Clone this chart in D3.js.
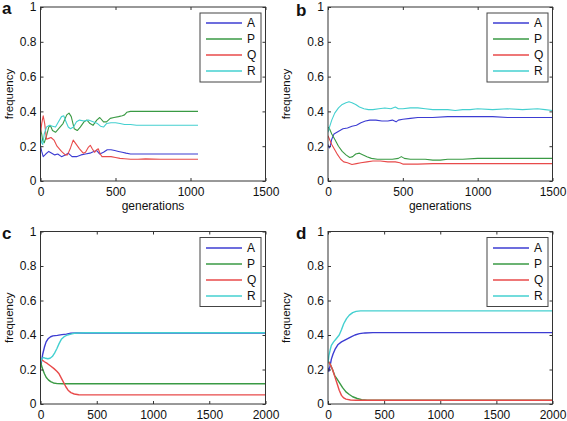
<!DOCTYPE html>
<html><head><meta charset="utf-8">
<script src="https://cdn.jsdelivr.net/npm/d3@7"></script>
<style>
body{margin:0;background:#fff}
svg{display:block}
text{font-family:"Liberation Sans",Arial,sans-serif;fill:#111}
</style>
</head><body>
<svg id="chart" width="567" height="421"></svg>
<script>
// ---------- data ----------
const seriesNames = ["A", "P", "Q", "R"];
const seriesColors = ["#3c3cd2", "#3a9a44", "#e84a4a", "#44d0d0"];
const panelLabels = ["a", "b", "c", "d"];
const yTicks = [0, 0.2, 0.4, 0.6, 0.8, 1];
const yTickLabels = ["0", "0.2", "0.4", "0.6", "0.8", "1"];
const xTicksTopRow = [0, 500, 1000, 1500];
const xTicksBottomRow = [0, 500, 1000, 1500, 2000];
const xMaxTopRow = 1500;
const xMaxBottomRow = 2000;
const xLabel = "generations";
const yLabel = "frequency";

// panel a : [generation, frequency]
const a_A = [[0,0.2],[8,0.17],[18,0.14],[35,0.155],[55,0.17],[75,0.16],[95,0.15],[115,0.155],[140,0.14],[165,0.15],[185,0.16],[210,0.14],[240,0.14],[270,0.15],[300,0.155],[330,0.16],[355,0.17],[375,0.175],[395,0.155],[420,0.165],[445,0.18],[470,0.18],[495,0.175],[520,0.17],[545,0.165],[570,0.16],[600,0.155],[700,0.155],[800,0.155],[900,0.155],[1050,0.155]];
const a_P = [[0,0.3],[8,0.27],[15,0.23],[25,0.22],[40,0.26],[55,0.31],[65,0.32],[80,0.29],[100,0.28],[120,0.3],[150,0.33],[175,0.38],[190,0.39],[205,0.37],[225,0.3],[245,0.29],[265,0.31],[290,0.34],[310,0.35],[330,0.33],[350,0.32],[375,0.35],[395,0.365],[420,0.34],[440,0.34],[465,0.36],[490,0.365],[520,0.37],[545,0.375],[560,0.38],[575,0.395],[600,0.4],[700,0.4],[800,0.4],[900,0.4],[1050,0.4]];
const a_Q = [[0,0.27],[8,0.33],[18,0.375],[28,0.33],[40,0.24],[55,0.245],[70,0.25],[90,0.235],[110,0.2],[140,0.17],[165,0.15],[180,0.15],[200,0.19],[218,0.235],[235,0.215],[260,0.185],[285,0.16],[300,0.165],[320,0.195],[332,0.205],[345,0.185],[360,0.165],[375,0.18],[385,0.185],[398,0.155],[410,0.14],[440,0.14],[470,0.14],[500,0.135],[530,0.13],[560,0.128],[600,0.125],[650,0.125],[700,0.127],[800,0.125],[900,0.125],[1050,0.125]];
const a_R = [[0,0.25],[8,0.22],[15,0.21],[25,0.27],[40,0.31],[60,0.32],[80,0.315],[100,0.31],[120,0.34],[140,0.37],[155,0.375],[170,0.34],[185,0.31],[200,0.3],[220,0.31],[240,0.34],[260,0.35],[290,0.345],[320,0.35],[350,0.34],[380,0.33],[400,0.315],[420,0.31],[440,0.33],[470,0.335],[500,0.335],[530,0.33],[560,0.325],[600,0.325],[640,0.32],[700,0.32],[800,0.32],[900,0.32],[1050,0.32]];

// panel b
const b_A = [[0,0.21],[8,0.19],[15,0.2],[25,0.24],[40,0.27],[60,0.28],[80,0.29],[100,0.3],[130,0.305],[160,0.315],[190,0.32],[220,0.335],[250,0.345],[280,0.35],[320,0.35],[360,0.345],[400,0.345],[430,0.35],[455,0.34],[470,0.35],[500,0.355],[550,0.36],[600,0.365],[700,0.365],[800,0.37],[900,0.37],[1000,0.37],[1100,0.37],[1200,0.365],[1300,0.365],[1400,0.365],[1500,0.365]];
const b_P = [[0,0.31],[10,0.3],[25,0.27],[45,0.24],[70,0.2],[95,0.17],[120,0.15],[145,0.135],[165,0.14],[185,0.155],[210,0.16],[235,0.15],[260,0.14],[290,0.13],[330,0.125],[380,0.125],[430,0.125],[470,0.13],[490,0.14],[510,0.13],[550,0.125],[600,0.125],[650,0.125],[700,0.12],[750,0.12],[800,0.125],[900,0.125],[1000,0.13],[1100,0.13],[1200,0.13],[1300,0.13],[1400,0.13],[1500,0.13]];
const b_Q = [[0,0.26],[10,0.24],[25,0.21],[45,0.18],[65,0.15],[85,0.125],[105,0.11],[130,0.105],[160,0.095],[190,0.1],[220,0.105],[260,0.11],[300,0.115],[350,0.115],[400,0.11],[450,0.11],[480,0.105],[500,0.097],[550,0.097],[600,0.097],[700,0.1],[800,0.1],[1000,0.1],[1200,0.1],[1500,0.1]];
const b_R = [[0,0.28],[10,0.31],[25,0.35],[45,0.39],[70,0.42],[95,0.44],[120,0.45],[140,0.455],[160,0.45],[185,0.44],[210,0.425],[240,0.415],[270,0.41],[300,0.41],[340,0.415],[380,0.42],[420,0.415],[450,0.425],[470,0.415],[500,0.415],[550,0.42],[600,0.42],[650,0.415],[700,0.41],[750,0.41],[800,0.41],[850,0.405],[900,0.41],[950,0.41],[1000,0.415],[1100,0.41],[1200,0.415],[1300,0.41],[1400,0.415],[1450,0.41],[1500,0.405]];

// panel c
const c_A = [[0,0.21],[10,0.25],[20,0.29],[35,0.33],[50,0.36],[70,0.38],[90,0.39],[110,0.395],[150,0.398],[190,0.402],[230,0.405],[270,0.41],[320,0.412],[400,0.412],[600,0.412],[1000,0.412],[1500,0.412],[2000,0.412]];
const c_P = [[0,0.25],[10,0.22],[20,0.2],[35,0.175],[50,0.155],[70,0.14],[90,0.13],[115,0.122],[150,0.118],[200,0.117],[400,0.117],[1000,0.117],[2000,0.117]];
const c_Q = [[0,0.25],[15,0.255],[35,0.245],[60,0.235],[90,0.22],[120,0.205],[145,0.19],[165,0.175],[185,0.15],[205,0.125],[225,0.1],[245,0.08],[270,0.066],[300,0.058],[340,0.054],[400,0.053],[1000,0.053],[2000,0.053]];
const c_R = [[0,0.24],[10,0.26],[25,0.27],[45,0.265],[65,0.262],[85,0.265],[105,0.275],[125,0.295],[145,0.32],[165,0.35],[185,0.375],[210,0.39],[240,0.4],[270,0.405],[300,0.41],[340,0.412],[400,0.413],[600,0.413],[1000,0.413],[1500,0.413],[2000,0.413]];

// panel d
const d_A = [[0,0.21],[8,0.19],[18,0.22],[30,0.26],[45,0.29],[65,0.32],[90,0.345],[120,0.36],[150,0.37],[180,0.38],[210,0.39],[240,0.4],[280,0.408],[330,0.412],[400,0.414],[600,0.414],[1000,0.414],[2000,0.414]];
const d_P = [[0,0.25],[20,0.23],[40,0.2],[60,0.165],[80,0.145],[100,0.125],[130,0.095],[160,0.07],[190,0.055],[220,0.042],[260,0.032],[300,0.025],[350,0.022],[1000,0.022],[2000,0.022]];
const d_Q = [[0,0.25],[20,0.23],[40,0.2],[60,0.16],[80,0.12],[100,0.08],[120,0.05],[140,0.035],[160,0.028],[200,0.023],[250,0.022],[1000,0.022],[2000,0.022]];
const d_R = [[0,0.24],[8,0.28],[18,0.31],[30,0.34],[50,0.36],[75,0.38],[100,0.4],[120,0.43],[140,0.465],[165,0.495],[190,0.515],[220,0.53],[250,0.537],[290,0.54],[350,0.54],[500,0.54],[1000,0.54],[1500,0.54],[2000,0.54]];

const panelSeries = [[a_A, a_P, a_Q, a_R], [b_A, b_P, b_Q, b_R], [c_A, c_P, c_Q, c_R], [d_A, d_P, d_Q, d_R]];

// ---------- layout ----------
const layout = [
  {x0: 40.5, x1: 265.5, y0: 7, y1: 181, xmax: xMaxTopRow, xticks: xTicksTopRow, xlab: true, lx: 2, ly: 14, yl: 10, lw: 1.1},
  {x0: 328, x1: 552.5, y0: 7, y1: 181, xmax: xMaxTopRow, xticks: xTicksTopRow, xlab: true, lx: 296, ly: 15.5, yl: 287, lw: 1.1},
  {x0: 40.5, x1: 265.5, y0: 231.5, y1: 404, xmax: xMaxBottomRow, xticks: xTicksBottomRow, xlab: false, lx: 2, ly: 239, yl: 10, lw: 1.4},
  {x0: 328, x1: 552.5, y0: 231.5, y1: 404, xmax: xMaxBottomRow, xticks: xTicksBottomRow, xlab: false, lx: 296, ly: 239, yl: 287, lw: 1.4}
];

const svg = d3.select("#chart");
svg.append("rect").attr("width", 567).attr("height", 421).attr("fill", "#fff");

layout.forEach((L, i) => {
  const x = d3.scaleLinear().domain([0, L.xmax]).range([L.x0, L.x1]);
  const y = d3.scaleLinear().domain([0, 1]).range([L.y1, L.y0]);
  const g = svg.append("g");

  const cid = "clip" + i;
  g.append("clipPath").attr("id", cid).append("rect")
    .attr("x", L.x0).attr("y", L.y0).attr("width", L.x1 - L.x0).attr("height", L.y1 - L.y0);

  const line = d3.line().x(d => x(d[0])).y(d => y(d[1]));
  const lg = g.append("g").attr("clip-path", `url(#${cid})`);
  panelSeries[i].forEach((s, k) => {
    lg.append("path").attr("d", line(s)).attr("fill", "none")
      .attr("stroke", seriesColors[k]).attr("stroke-width", L.lw)
      .attr("stroke-linejoin", "round");
  });

  const axes = [
    g.append("g").attr("transform", `translate(${L.x0},0)`).call(d3.axisLeft(y).tickValues(yTicks).tickFormat((d, j) => yTickLabels[j]).tickSize(-3).tickPadding(4)),
    g.append("g").attr("transform", `translate(${L.x1},0)`).call(d3.axisRight(y).tickValues(yTicks).tickFormat("").tickSize(-3)),
    g.append("g").attr("transform", `translate(0,${L.y1})`).call(d3.axisBottom(x).tickValues(L.xticks).tickFormat(d3.format("d")).tickSize(-3).tickPadding(6)),
    g.append("g").attr("transform", `translate(0,${L.y0})`).call(d3.axisTop(x).tickValues(L.xticks).tickFormat("").tickSize(-3))
  ];
  axes.forEach(sel => {
    sel.select(".domain").remove();
    sel.selectAll(".tick line").attr("stroke", "#333");
    sel.selectAll(".tick text").attr("font-size", "12px").attr("font-family", "Liberation Sans, Arial, sans-serif").attr("fill", "#111");
  });

  g.append("rect").attr("x", L.x0).attr("y", L.y0).attr("width", L.x1 - L.x0).attr("height", L.y1 - L.y0)
    .attr("fill", "none").attr("stroke", "#333").attr("stroke-width", 1);

  // legend
  const leg = svg.append("g").attr("class", "legend");
  const lx1 = L.x1 - 4.5, lx0 = lx1 - 61, ly0 = L.y0 + 6;
  leg.append("rect").attr("x", lx0).attr("y", ly0).attr("width", 61).attr("height", 69)
    .attr("fill", "#fff").attr("stroke", "#444").attr("stroke-width", 1);
  seriesNames.forEach((n, k) => {
    const yy = Math.round(ly0 + 10 + k * 16);
    leg.append("path").attr("d", `M${lx0 + 6},${yy}H${lx0 + 42}`)
      .attr("fill", "none").attr("stroke", seriesColors[k]).attr("stroke-width", 1.4);
    leg.append("text").attr("x", lx0 + 47).attr("y", yy).attr("dy", "0.36em")
      .attr("font-size", "12px").text(n);
  });

  // labels
  g.append("text").attr("transform", `translate(${L.yl + 3},${(L.y0 + L.y1) / 2}) rotate(-90)`)
    .attr("text-anchor", "middle").attr("font-size", "11.5px").text(yLabel);
  if (L.xlab) {
    g.append("text").attr("x", (L.x0 + L.x1) / 2).attr("y", 210)
      .attr("text-anchor", "middle").attr("font-size", "12px").text(xLabel);
  }
  g.append("text").attr("x", L.lx).attr("y", L.ly).attr("font-size", "17px")
    .attr("font-weight", "bold").text(panelLabels[i]);
});
</script>
</body></html>
